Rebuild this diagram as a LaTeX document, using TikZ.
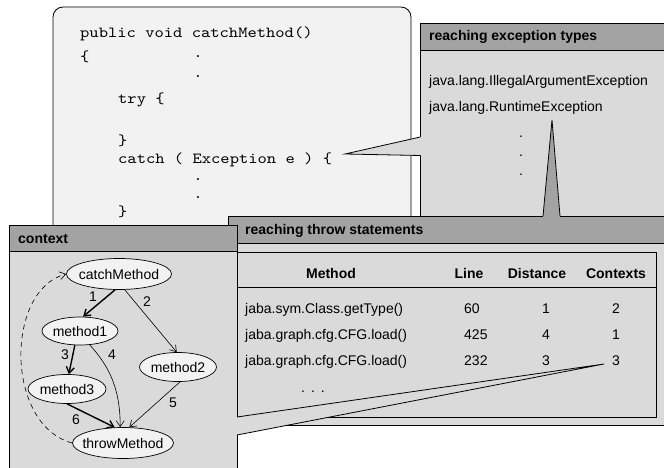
\documentclass[tikz,border=0pt]{standalone}
\usepackage{fontspec}
\setmainfont{Liberation Sans}
\newfontfamily\codefont{lmmono10-regular.otf}[FakeStretch=1.15]
\usetikzlibrary{shapes.geometric,arrows.meta}
\definecolor{hdr}{HTML}{A3A3A3}
\definecolor{bdy}{HTML}{DADADA}
\definecolor{pale}{HTML}{F2F2F2}
\begin{document}
\begin{tikzpicture}[x=1pt,y=-1pt,
  every node/.style={font=\fontsize{14}{16}\selectfont, inner sep=0pt},
  panel/.style={draw=black, line width=0.8pt},
  code/.style={font=\codefont\fontsize{15.4}{18}\selectfont, anchor=base west},
  codedot/.style={font=\codefont\fontsize{15.4}{18}\selectfont, anchor=center},
  txt/.style={anchor=base west},
  ctr/.style={anchor=base},
  hd/.style={font=\bfseries\fontsize{14}{16}\selectfont, anchor=base west},
  colhd/.style={font=\bfseries\fontsize{14}{16}\selectfont, anchor=base},
  ell/.style={ellipse, draw=black, fill=pale, line width=0.7pt, inner sep=0pt},
  lightedge/.style={line width=0.6pt, -{Straight Barb[length=6pt,width=8pt]}},
  heavyedge/.style={line width=1.4pt, -{Straight Barb[length=6pt,width=8pt]}},
  backedge/.style={line width=0.6pt, dash pattern=on 5pt off 4pt, -{Straight Barb[length=6pt,width=8pt]}},
  wedgeline/.style={line width=0.8pt, line join=miter}
]
\fill[white] (0,0) rectangle (664,468);
\useasboundingbox (0,0) rectangle (664,468);
\clip (0,0) rectangle (664,468);

% code box
\draw[panel, fill=pale, rounded corners=10pt] (53,7) rectangle (411,400);
\node[code] (c1) at (80,38) {public void catchMethod()};
\node[code] (c2) at (80,62) {\{};
\node[codedot] (d1) at (198,57) {.};
\node[codedot] (d2) at (198,77) {.};
\node[code] (c3) at (118,104) {try \{};
\node[code] (c4) at (118,146) {\}};
\node[code] (c5) at (118,164) {catch ( Exception e ) \{};
\node[codedot] (d3) at (198,180) {.};
\node[codedot] (d4) at (198,198) {.};
\node[code] (c6) at (118,216) {\}};

% exception panel
\draw[panel, fill=bdy] (420,23) rectangle (680,230);
\draw[panel, fill=hdr] (420,23) rectangle (680,50);
\node[hd] (eh) at (429,41) {reaching exception types};
\node[txt] (e1) at (429,86) {java.lang.IllegalArgumentException};
\node[txt] (e2) at (429,112) {java.lang.RuntimeException};
\node (ed1) at (521,137) {.};
\node (ed2) at (521,156) {.};
\node (ed3) at (521,175) {.};

% callout from exception panel to catch
\fill[bdy] (345,154) -- (420,137) -- (421,137) -- (421,155.5) -- (420,155.5) -- cycle;
\draw[wedgeline] (420.4,137) -- (345,154) -- (420.4,155.5);

% throw statements panel
\draw[panel, fill=bdy] (228,216) rectangle (680,425);
\draw[panel, fill=hdr] (228,216) rectangle (680,243);
\node[hd] (th) at (245,234) {reaching throw statements};
\draw[panel] (237,252) rectangle (656,417);
\draw[panel] (237,287) -- (656,287);
\node[colhd] (hm) at (331,278) {Method};
\node[colhd] (hl) at (469,278) {Line};
\node[colhd] (hdist) at (537,278) {Distance};
\node[colhd] (hc) at (616,278) {Contexts};
\node[txt] (r1m) at (245,313) {jaba.sym.Class.getType()};
\node[txt] (r1l) at (464,313) {60};
\node[ctr] (r1d) at (546,313) {1};
\node[ctr] (r1c) at (616,313) {2};
\node[txt] (r2m) at (245,339) {jaba.graph.cfg.CFG.load()};
\node[txt] (r2l) at (464,339) {425};
\node[ctr] (r2d) at (546,339) {4};
\node[ctr] (r2c) at (616,339) {1};
\node[txt] (r3m) at (245,365) {jaba.graph.cfg.CFG.load()};
\node[txt] (r3l) at (464,365) {232};
\node[ctr] (r3d) at (546,365) {3};
\node[ctr] (r3c) at (616,365) {3};
\node[ctr] (more) at (313,392) {.\hspace{6pt}.\hspace{6pt}.};

% callout from throw panel to RuntimeException
\fill[hdr] (543,217) -- (552,120) -- (560,217) -- cycle;
\draw[wedgeline] (543,216) -- (552,120) -- (560,216);

% context panel
\draw[panel, fill=bdy] (9,225) rectangle (237,480);
\draw[panel, fill=hdr] (9,225) rectangle (237,251);
\node[hd] (ch) at (18,243) {context};

\node[ell, minimum width=105pt, minimum height=31pt] (catch) at (119,274) {\makebox[0pt]{catchMethod}};
\node[ell, minimum width=76pt, minimum height=28pt] (m1) at (80,331) {\makebox[0pt]{method1}};
\node[ell, minimum width=77pt, minimum height=29pt] (m2) at (178,367) {\makebox[0pt]{method2}};
\node[ell, minimum width=78pt, minimum height=29pt] (m3) at (67,389) {\makebox[0pt]{method3}};
\node[ell, minimum width=101pt, minimum height=31pt] (throw) at (123,443) {\makebox[0pt]{throwMethod}};

\draw[heavyedge] (catch.256) -- (m1.78);
\draw[lightedge] (catch.290) -- (m2.95);
\draw[heavyedge] (m1.250) -- (m3.83);
\draw[lightedge] (m1.305) .. controls +(20,22) and +(0,-38) .. (throw.100);
\draw[lightedge] (m2.278) -- (throw.68);
\draw[heavyedge] (m3.270) -- (throw.118);
\draw[backedge] (throw.west) .. controls (5,425) and (5,290) .. (catch.west);

\node (l1) at (93,297) {1};
\node (l2) at (147,302) {2};
\node (l3) at (65,355) {3};
\node (l4) at (112,355) {4};
\node (l5) at (173,403) {5};
\node (l6) at (76,420) {6};

% callout from context panel to Contexts entry
\fill[bdy] (236,417) -- (604,364) -- (236,435) -- cycle;
\draw[wedgeline] (237,417) -- (604,364) -- (237,435);
\end{tikzpicture}
\end{document}
